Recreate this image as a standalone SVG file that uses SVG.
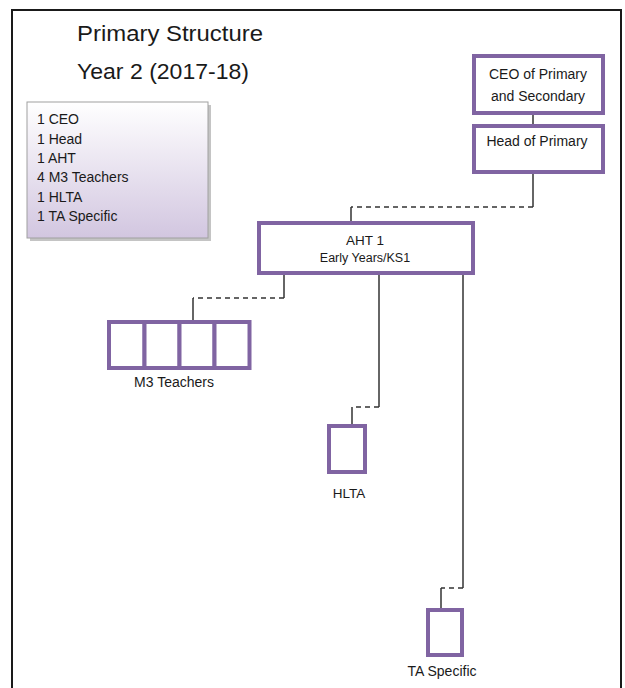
<svg xmlns="http://www.w3.org/2000/svg" width="625" height="688" viewBox="0 0 625 688">
<defs>
<linearGradient id="lg" x1="0" y1="0" x2="0" y2="1">
<stop offset="0" stop-color="#ffffff"/>
<stop offset="1" stop-color="#d2c6e0"/>
</linearGradient>
<style>
.t{font-family:"Liberation Sans",Arial,sans-serif;fill:#1a1a1a}
.box{fill:#ffffff;stroke:#8064a2;stroke-width:4}
.c{fill:none;stroke:#333333;stroke-width:1.5}
.d{fill:none;stroke:#333333;stroke-width:1.5;stroke-dasharray:5,4}
</style>
</defs>
<rect x="0" y="0" width="625" height="688" fill="#ffffff"/>
<rect x="12" y="10" width="609" height="690" fill="#ffffff" stroke="#1a1a1a" stroke-width="2"/>
<g id="title">
<text class="t" x="77" y="41" font-size="22" textLength="186" lengthAdjust="spacingAndGlyphs">Primary Structure</text>
<text class="t" x="77" y="79" font-size="22" textLength="172" lengthAdjust="spacingAndGlyphs">Year 2 (2017-18)</text>
</g>
<g id="legend">
<rect x="30" y="105" width="181" height="136" fill="#c4c4c4"/>
<rect x="27" y="102" width="181" height="136" fill="url(#lg)" stroke="#a0a0a0" stroke-width="1"/>
<text class="t" font-size="14" x="37">
<tspan x="37" y="124">1 CEO</tspan>
<tspan x="37" y="144">1 Head</tspan>
<tspan x="37" y="163">1 AHT</tspan>
<tspan x="37" y="182">4 M3 Teachers</tspan>
<tspan x="37" y="202">1 HLTA</tspan>
<tspan x="37" y="221">1 TA Specific</tspan>
</text>
</g>
<g id="connectors">
<line class="c" x1="533" y1="114" x2="533" y2="125"/>
<polyline class="c" points="533,172 533,207"/>
<line class="d" x1="533" y1="207" x2="351" y2="207"/>
<polyline class="c" points="351,207 351,222"/>
<polyline class="c" points="284,273 284,298"/>
<line class="d" x1="284" y1="298" x2="193" y2="298"/>
<polyline class="c" points="193,298 193,322"/>
<polyline class="c" points="379,273 379,407"/>
<line class="d" x1="379" y1="407" x2="352" y2="407"/>
<polyline class="c" points="352,407 352,426"/>
<polyline class="c" points="463,273 463,588"/>
<line class="d" x1="463" y1="588" x2="441" y2="588"/>
<polyline class="c" points="441,588 441,610"/>
</g>
<g id="ceo">
<rect class="box" x="474" y="56" width="129" height="57"/>
<text class="t" font-size="14" text-anchor="middle" x="538" y="79">CEO of Primary</text>
<text class="t" font-size="14" text-anchor="middle" x="538" y="101">and Secondary</text>
</g>
<g id="head">
<rect class="box" x="474" y="126" width="129" height="46"/>
<text class="t" font-size="14" text-anchor="middle" x="537" y="146">Head of Primary</text>
</g>
<g id="aht">
<rect class="box" x="259" y="223" width="214" height="50"/>
<text class="t" font-size="13.5" text-anchor="middle" x="365" y="245">AHT 1</text>
<text class="t" font-size="12.5" text-anchor="middle" x="365" y="262">Early Years/KS1</text>
</g>
<g id="teachers">
<rect class="box" x="109" y="322" width="35.5" height="46"/>
<rect class="box" x="144.5" y="322" width="35" height="46"/>
<rect class="box" x="179.5" y="322" width="35" height="46"/>
<rect class="box" x="214.5" y="322" width="35" height="46"/>
<text class="t" font-size="14" text-anchor="middle" x="174" y="387">M3 Teachers</text>
</g>
<g id="hlta">
<rect class="box" x="329" y="426" width="36" height="46"/>
<text class="t" font-size="13.5" text-anchor="middle" x="349" y="498">HLTA</text>
</g>
<g id="ta">
<rect class="box" x="428" y="610" width="34" height="45"/>
<text class="t" font-size="14" text-anchor="middle" x="442" y="676">TA Specific</text>
</g>
</svg>
